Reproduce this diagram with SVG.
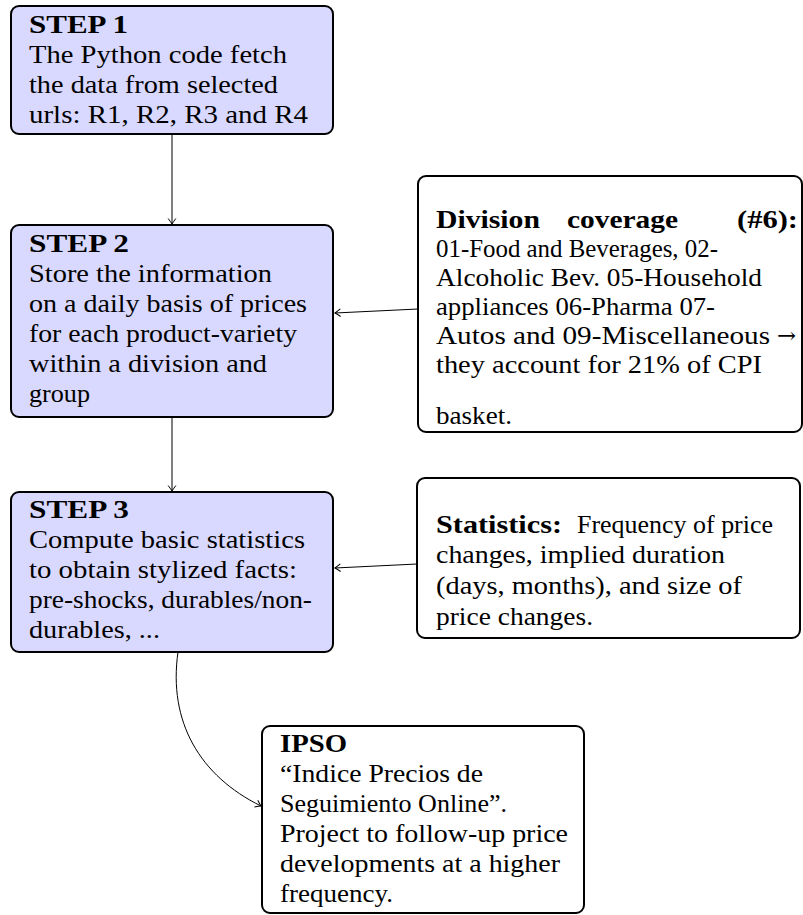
<svg xmlns="http://www.w3.org/2000/svg" width="803" height="915" viewBox="0 0 803 915">
<style>
.box{stroke:#000;stroke-width:2}
.step{fill:#d9d9ff}
.note{fill:#fff}
text{font-family:"Liberation Serif","Times New Roman",serif;font-size:26px;fill:#000}
.b{font-weight:bold}
.ar{font-family:"DejaVu Serif",serif;font-size:22px}
.conn{fill:none;stroke:#000;stroke-width:1}
</style>
<defs>
<marker id="arr" viewBox="-7 -5 8 10" refX="0" refY="0" markerWidth="8" markerHeight="10" orient="auto" markerUnits="userSpaceOnUse">
<path d="M-5.5,-3.8 Q-1.6,-1 0,0 Q-1.6,1 -5.5,3.8" fill="none" stroke="#000" stroke-width="1"/>
</marker>
</defs>
<rect width="803" height="915" fill="#fff"/>
<g id="connectors">
<line class="conn" x1="172" y1="134" x2="172" y2="224" marker-end="url(#arr)"/>
<line class="conn" x1="172" y1="417" x2="172" y2="491" marker-end="url(#arr)"/>
<line class="conn" x1="418" y1="309" x2="335" y2="313" marker-end="url(#arr)"/>
<line class="conn" x1="417" y1="564" x2="335" y2="568" marker-end="url(#arr)"/>
<path class="conn" d="M178,652 C168,722 200,776 261,806" marker-end="url(#arr)"/>
</g>
<g id="step1">
<rect class="box step" x="11" y="6" width="322" height="128" rx="8"/>
<text class="b" x="29" y="33" textLength="99" lengthAdjust="spacingAndGlyphs">STEP 1</text>
<text x="29" y="63" textLength="258" lengthAdjust="spacingAndGlyphs">The Python code fetch</text>
<text x="29" y="93" textLength="249" lengthAdjust="spacingAndGlyphs">the data from selected</text>
<text x="29" y="123" textLength="279" lengthAdjust="spacingAndGlyphs">urls: R1, R2, R3 and R4</text>
</g>
<g id="step2">
<rect class="box step" x="11" y="225" width="322" height="192" rx="8"/>
<text class="b" x="29" y="252" textLength="100" lengthAdjust="spacingAndGlyphs">STEP 2</text>
<text x="29" y="282" textLength="243" lengthAdjust="spacingAndGlyphs">Store the information</text>
<text x="29" y="312" textLength="278" lengthAdjust="spacingAndGlyphs">on a daily basis of prices</text>
<text x="29" y="342" textLength="268" lengthAdjust="spacingAndGlyphs">for each product-variety</text>
<text x="29" y="372" textLength="238" lengthAdjust="spacingAndGlyphs">within a division and</text>
<text x="29" y="402" textLength="61" lengthAdjust="spacingAndGlyphs">group</text>
</g>
<g id="step3">
<rect class="box step" x="11" y="492" width="322" height="160" rx="8"/>
<text class="b" x="29" y="518" textLength="100" lengthAdjust="spacingAndGlyphs">STEP 3</text>
<text x="29" y="548" textLength="276" lengthAdjust="spacingAndGlyphs">Compute basic statistics</text>
<text x="29" y="578" textLength="268" lengthAdjust="spacingAndGlyphs">to obtain stylized facts:</text>
<text x="29" y="608" textLength="283" lengthAdjust="spacingAndGlyphs">pre-shocks, durables/non-</text>
<text x="29" y="638" textLength="131" lengthAdjust="spacingAndGlyphs">durables, ...</text>
</g>
<g id="division">
<rect class="box note" x="418" y="176" width="384" height="256" rx="8"/>
<text class="b" x="436" y="228" textLength="104" lengthAdjust="spacingAndGlyphs">Division</text>
<text class="b" x="567" y="228" textLength="111" lengthAdjust="spacingAndGlyphs">coverage</text>
<text class="b" x="737" y="228" textLength="61" lengthAdjust="spacingAndGlyphs">(#6):</text>
<text x="436" y="257" textLength="282" lengthAdjust="spacingAndGlyphs">01-Food and Beverages, 02-</text>
<text x="436" y="286" textLength="326" lengthAdjust="spacingAndGlyphs">Alcoholic Bev. 05-Household</text>
<text x="436" y="315" textLength="279" lengthAdjust="spacingAndGlyphs">appliances 06-Pharma 07-</text>
<text x="436" y="344" textLength="334" lengthAdjust="spacingAndGlyphs">Autos and 09-Miscellaneous</text>
<text class="ar" x="777" y="343" textLength="19" lengthAdjust="spacingAndGlyphs">→</text>
<text x="436" y="373" textLength="326" lengthAdjust="spacingAndGlyphs">they account for 21% of CPI</text>
<text x="436" y="424" textLength="76" lengthAdjust="spacingAndGlyphs">basket.</text>
</g>
<g id="statistics">
<rect class="box note" x="417" y="478" width="383" height="160" rx="8"/>
<text class="b" x="436" y="533" textLength="126" lengthAdjust="spacingAndGlyphs">Statistics:</text>
<text x="577" y="533" textLength="196" lengthAdjust="spacingAndGlyphs">Frequency of price</text>
<text x="436" y="563" textLength="289" lengthAdjust="spacingAndGlyphs">changes, implied duration</text>
<text x="436" y="594" textLength="306" lengthAdjust="spacingAndGlyphs">(days, months), and size of</text>
<text x="436" y="625" textLength="157" lengthAdjust="spacingAndGlyphs">price changes.</text>
</g>
<g id="ipso">
<rect class="box note" x="262" y="726" width="322" height="187" rx="8"/>
<text class="b" x="280" y="752" textLength="67" lengthAdjust="spacingAndGlyphs">IPSO</text>
<text x="280" y="782" textLength="203" lengthAdjust="spacingAndGlyphs">“Indice Precios de</text>
<text x="280" y="812" textLength="227" lengthAdjust="spacingAndGlyphs">Seguimiento Online”.</text>
<text x="280" y="842" textLength="288" lengthAdjust="spacingAndGlyphs">Project to follow-up price</text>
<text x="280" y="872" textLength="280" lengthAdjust="spacingAndGlyphs">developments at a higher</text>
<text x="280" y="902" textLength="113" lengthAdjust="spacingAndGlyphs">frequency.</text>
</g>
</svg>
